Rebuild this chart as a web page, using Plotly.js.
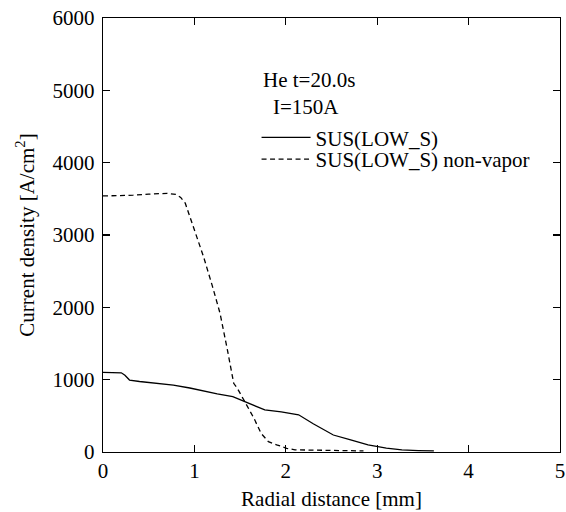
<!DOCTYPE html>
<html>
<head>
<meta charset="utf-8">
<script src="https://cdn.plot.ly/plotly-3.0.1.min.js"></script>
<style>
  html, body { margin: 0; padding: 0; background: #fff; }
  #chart { width: 566px; height: 512px; }
</style>
</head>
<body>
<div id="chart"></div>
<script>
// Radial current density profiles, He arc, t = 20.0 s, I = 150 A
const vaporRadius = [0, 0.1, 0.2, 0.24, 0.29, 0.4, 0.55, 0.77, 0.95, 1.1, 1.25, 1.42, 1.53, 1.65, 1.77, 1.95, 2.14, 2.3, 2.52, 2.7, 2.9, 3.1, 3.27, 3.45, 3.62];
const vaporDensity = [1100, 1100, 1095, 1060, 995, 975, 955, 926, 885, 840, 805, 765, 705, 640, 581, 555, 515, 390, 235, 170, 97, 55, 28, 20, 15];

const nonVaporRadius = [0, 0.1, 0.2, 0.33, 0.5, 0.7, 0.8, 0.85, 0.9, 1.0, 1.1, 1.2, 1.28, 1.36, 1.43, 1.47, 1.55, 1.65, 1.73, 1.81, 1.9, 2.01, 2.1, 2.3, 2.5, 2.7, 2.85];
const nonVaporDensity = [3540, 3540, 3545, 3550, 3565, 3576, 3560, 3520, 3440, 3070, 2700, 2280, 1920, 1420, 950, 880, 696, 470, 258, 143, 100, 51, 30, 25, 22, 20, 15];

const seriesNames = ['SUS(LOW_S)', 'SUS(LOW_S) non-vapor'];
const conditionLines = ['He t=20.0s', 'I=150A'];
const xTicks = [0, 1, 2, 3, 4, 5];
const yTicks = [0, 1000, 2000, 3000, 4000, 5000, 6000];

const serif = "'Liberation Serif', 'Times New Roman', Times, serif";
const textFont = { family: serif, size: 21, color: '#000' };

const traces = [
  {
    x: vaporRadius, y: vaporDensity, name: seriesNames[0],
    type: 'scatter', mode: 'lines', legend: 'legend',
    line: { color: '#000', width: 1.3 }
  },
  {
    x: nonVaporRadius, y: nonVaporDensity, name: seriesNames[1],
    type: 'scatter', mode: 'lines', legend: 'legend2',
    line: { color: '#000', width: 1.3, dash: '5px,3.5px' }
  }
];

const axisCommon = {
  showline: true, linecolor: '#000', linewidth: 1.2, mirror: 'ticks',
  ticks: 'inside', ticklen: 7, tickwidth: 1.2, tickcolor: '#000',
  showgrid: false, zeroline: false,
  tickfont: textFont
};

const legendCommon = {
  xanchor: 'left', yanchor: 'middle',
  bgcolor: 'rgba(0,0,0,0)', borderwidth: 0,
  itemwidth: 49,
  font: textFont
};

const layout = {
  width: 566, height: 512,
  margin: { l: 103, r: 6, t: 18, b: 60 },
  paper_bgcolor: '#fff', plot_bgcolor: '#fff',
  showlegend: true,
  legend: Object.assign({}, legendCommon, { x: 0.336, y: 0.724 }),
  legend2: Object.assign({}, legendCommon, { x: 0.336, y: 0.674 }),
  annotations: [
    { text: conditionLines[0], xref: 'paper', yref: 'paper', x: 0.345, y: 0.857,
      xanchor: 'left', yanchor: 'middle', showarrow: false, font: textFont },
    { text: conditionLines[1], xref: 'paper', yref: 'paper', x: 0.367, y: 0.795,
      xanchor: 'left', yanchor: 'middle', showarrow: false, font: textFont }
  ],
  xaxis: Object.assign({}, axisCommon, {
    range: [0, 5], tickvals: xTicks, ticktext: xTicks.map(String),
    title: { text: 'Radial distance [mm]', font: textFont, standoff: 8 }
  }),
  yaxis: Object.assign({}, axisCommon, {
    range: [0, 6000], tickvals: yTicks, ticktext: yTicks.map(String),
    ticklabelstandoff: 3,
    title: { text: 'Current density [A/cm<sup>2</sup>]', font: textFont, standoff: 12 }
  })
};

Plotly.newPlot('chart', traces, layout, { displayModeBar: false, staticPlot: true });
</script>
</body>
</html>
